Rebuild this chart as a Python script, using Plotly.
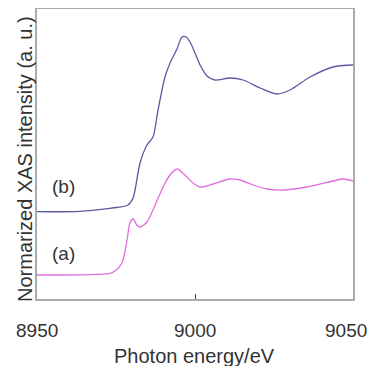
import plotly.graph_objects as go

# Photon energy (eV) and normalized intensity (arbitrary units, offset traces)
energy_b = [8950, 8963.6, 8973.1, 8978.8, 8980.4, 8982.6, 8984.8, 8986.7, 8988.3, 8990.5,
            8992.1, 8994.3, 8995.9, 8997.2, 8998.6, 9001.6, 9003.8, 9006.3, 9011.1, 9015.2,
            9020.6, 9025.9, 9030.1, 9036.4, 9043.7, 9050]
intensity_b = [87.3, 87.7, 90.7, 94, 101, 136, 154, 162, 189, 222,
               236, 250, 262, 262, 256, 234, 223, 219, 221, 219,
               211, 205, 209, 222, 232, 234]

energy_a = [8950, 8973.1, 8974.7, 8976.9, 8978.5, 8979.4, 8980.4, 8981.6, 8982.6, 8984.8,
            8986.7, 8989.9, 8992.1, 8994.3, 8996.8, 8999.4, 9001.6, 9005.7, 9011.1, 9014.2,
            9018.4, 9022.8, 9027.8, 9035.4, 9043.7, 9046.8, 9050]
intensity_a = [24, 25.7, 28, 36, 59, 76, 80, 74, 72, 77,
               89, 112, 124, 130, 124, 116, 112, 115, 120, 119,
               114, 110, 109, 112, 118, 120, 118]

x_ticks = [8950, 9000, 9050]
x_tick_labels = ["8950", "9000", "9050"]
series_labels = ["(b)", "(a)"]
label_pos = [(8958.3, 113), (8958.3, 46)]
x_title = "Photon energy/eV"
y_title = "Normarized XAS intensity (a. u.)"

font_family = "Liberation Sans, Arial, sans-serif"

fig = go.Figure()
fig.add_trace(go.Scatter(x=energy_a, y=intensity_a, mode="lines",
                         line=dict(color="#e06ee0", width=1.3, shape="spline", smoothing=0.8),
                         showlegend=False))
fig.add_trace(go.Scatter(x=energy_b, y=intensity_b, mode="lines",
                         line=dict(color="#5a5aa4", width=1.3, shape="spline", smoothing=0.8),
                         showlegend=False))

for txt, (xx, yy) in zip(series_labels, label_pos):
    fig.add_annotation(x=xx, y=yy, text=txt, showarrow=False,
                       font=dict(size=19, color="#333333", family=font_family))

# tick labels as annotations (the last one nudged so it stays inside the page)
for i, (tv, tl) in enumerate(zip(x_ticks, x_tick_labels)):
    last = i == len(x_ticks) - 1
    fig.add_annotation(x=tv, xref="x", y=0, yref="paper", yanchor="middle",
                       xanchor="right" if last else "center", xshift=16 if last else 0,
                       yshift=-31, text=tl, showarrow=False,
                       font=dict(size=19, color="#333333", family=font_family))

fig.add_annotation(xref="paper", yref="paper", x=0.5, y=0, yanchor="middle", xanchor="center",
                   yshift=-57, xshift=-1, text=x_title, showarrow=False,
                   font=dict(size=20, color="#333333", family=font_family))
fig.add_annotation(xref="paper", yref="paper", x=0, y=0.5, yanchor="middle", xanchor="center",
                   xshift=-12, yshift=-5, textangle=-90, text=y_title, showarrow=False,
                   font=dict(size=20, color="#333333", family=font_family))

fig.update_layout(
    width=362, height=358,
    margin=dict(l=29, r=17, t=1, b=67),
    paper_bgcolor="white", plot_bgcolor="white",
    font=dict(family=font_family, color="#333333"),
    xaxis=dict(range=[8950, 9050], tickvals=x_ticks, showticklabels=False,
               ticks="inside", ticklen=5, tickcolor="#444444", tickwidth=1,
               showline=True, linecolor="#aaaaaa", linewidth=1.5, mirror=True,
               showgrid=False, zeroline=False, automargin=False),
    yaxis=dict(range=[0, 290], showticklabels=False, ticks="",
               showline=True, linecolor="#aaaaaa", linewidth=1.5, mirror=True,
               showgrid=False, zeroline=False, automargin=False),
)

fig.write_html("out.html")
